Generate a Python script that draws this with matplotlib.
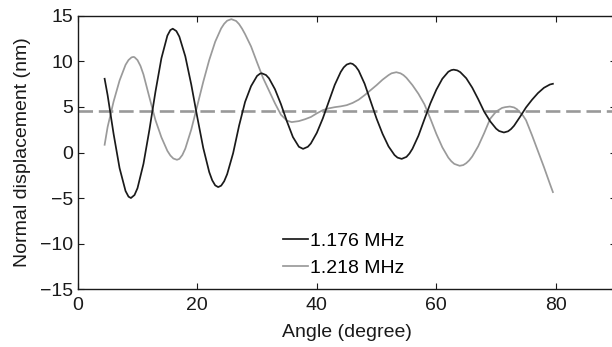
import matplotlib
matplotlib.use("Agg")
import matplotlib.pyplot as plt

plt.rcParams["font.family"] = ["Liberation Sans", "DejaVu Sans"]

# 1.176 MHz: incidence angle (degree) and normal displacement (nm)
angle_1176 = [4.5, 5, 6, 7, 8, 8.5, 8.9, 9.5, 10, 11, 12, 13, 14, 15, 15.5,
              15.9, 16.5, 17, 18, 19, 20, 21, 22, 22.5, 23, 23.5, 24, 24.5,
              25, 26, 27, 28, 29, 30, 30.5, 30.8, 31.5, 32, 33, 34, 35, 36,
              37, 37.7, 38.5, 39, 40, 41, 42, 43, 44, 44.5, 45, 45.6, 46,
              46.5, 47, 48, 49, 50, 51, 52, 53, 53.5, 54.2, 55, 55.5, 56, 57,
              58, 59, 60, 61, 62, 62.5, 62.9, 63.5, 64, 65, 66, 67, 68, 69,
              70, 70.5, 71.3, 72, 72.5, 73, 74, 75, 76, 77, 78, 79, 79.5]
disp_1176 = [8.1, 6.3, 2.05, -1.71, -4.23, -4.85, -5.0, -4.67, -3.92, -1.24,
             2.52, 6.66, 10.35, 12.84, 13.45, 13.6, 13.34, 12.73, 10.56, 7.45,
             3.89, 0.50, -2.15, -3.05, -3.61, -3.8, -3.64, -3.16, -2.38,
             -0.07, 2.96, 5.56, 7.29, 8.41, 8.66, 8.7, 8.51, 8.15, 6.95, 5.31,
             3.42, 1.70, 0.63, 0.4, 0.63, 0.99, 2.16, 3.74, 5.59, 7.43, 8.85,
             9.35, 9.66, 9.8, 9.73, 9.46, 9.00, 7.55, 5.64, 3.72, 2.05, 0.67,
             -0.28, -0.56, -0.7, -0.48, -0.11, 0.41, 1.84, 3.64, 5.40, 6.90,
             8.10, 8.87, 9.05, 9.1, 9.02, 8.83, 8.16, 7.13, 5.86, 4.49, 3.43,
             2.62, 2.36, 2.2, 2.33, 2.58, 2.94, 3.92, 4.95, 5.79, 6.53, 7.11,
             7.47, 7.55]

# 1.218 MHz: incidence angle (degree) and normal displacement (nm)
angle_1218 = [4.5, 5, 6, 7, 8, 8.5, 9, 9.3, 9.5, 10, 10.5, 11, 12, 13, 14,
              15, 15.5, 16, 16.6, 17, 17.5, 18, 19, 20, 21, 22, 23, 24, 24.5,
              25, 25.7, 26.5, 27, 27.5, 28, 29, 30, 31, 32, 33, 34, 35, 35.8,
              37, 38, 39, 40, 41, 42, 43, 44, 45, 46, 47, 48, 49, 50, 51, 52,
              52.5, 53.3, 54, 54.5, 55, 56, 57, 58, 59, 60, 61, 62, 62.5, 63,
              63.9, 64.5, 65, 65.5, 66, 67, 68, 69, 70, 71, 71.5, 72.3, 73,
              73.5, 74, 74.5, 75, 76, 77, 78, 79, 79.5]
disp_1218 = [0.85, 2.8, 5.6, 7.91, 9.63, 10.16, 10.45, 10.5, 10.47, 10.15,
             9.51, 8.57, 6.04, 3.57, 1.67, 0.18, -0.33, -0.66, -0.8, -0.70,
             -0.28, 0.43, 2.53, 5.13, 7.76, 10.16, 12.17, 13.64, 14.14, 14.48,
             14.65, 14.45, 14.1, 13.6, 13.0, 11.65, 9.9, 8.2, 6.8, 5.4, 4.15,
             3.5, 3.34, 3.45, 3.65, 3.9, 4.3, 4.65, 4.85, 4.98, 5.07, 5.2,
             5.45, 5.8, 6.3, 6.85, 7.4, 8.0, 8.5, 8.7, 8.82, 8.7, 8.5, 8.2,
             7.4, 6.45, 5.3, 3.72, 2.04, 0.57, -0.56, -0.96, -1.25, -1.46,
             -1.38, -1.17, -0.86, -0.44, 0.69, 2.13, 3.7, 4.5, 4.9, 4.98,
             5.05, 4.95, 4.75, 4.4, 4.05, 3.55, 1.9, 0.15, -1.6, -3.45, -4.35]

# Reference level (nm)
reference_level = 4.6

series_labels = ["1.176 MHz", "1.218 MHz"]
x_ticks = [0, 20, 40, 60, 80]
y_ticks = [-15, -10, -5, 0, 5, 10, 15]

FS = 14
INK = "#1a1a1a"

fig = plt.figure(figsize=(6.12, 3.47), dpi=100)
ax = fig.add_axes([0.127, 0.167, 0.879, 0.787])

ax.axhline(reference_level, color="#999999", lw=1.9, dashes=(5.5, 2.2), zorder=1)
ax.plot(angle_1176, disp_1176, color=INK, lw=1.25, label=series_labels[0], zorder=3)
ax.plot(angle_1218, disp_1218, color="#9a9a9a", lw=1.25, label=series_labels[1], zorder=2)

ax.set_xlim(0, 90)
ax.set_ylim(-15, 15)
ax.set_xticks(x_ticks)
ax.set_yticks(y_ticks)
ax.tick_params(axis="both", direction="in", length=4, width=0.8, top=True,
               right=True, labelsize=FS, colors=INK)
ax.tick_params(axis="x", pad=6)
ax.tick_params(axis="y", pad=3)
for s in ax.spines.values():
    s.set_linewidth(1.0)
    s.set_color(INK)

ax.set_xlabel("Angle (degree)", fontsize=FS, labelpad=7, color=INK)
ax.set_ylabel("Normal displacement (nm)", fontsize=FS, labelpad=7, color=INK)

ax.legend(loc="center left", bbox_to_anchor=(0.382, 0.125), frameon=False,
          fontsize=FS, handlelength=1.3, handletextpad=0.1, labelspacing=0.48,
          borderpad=0, borderaxespad=0)

fig.savefig("out.png", dpi=100)
